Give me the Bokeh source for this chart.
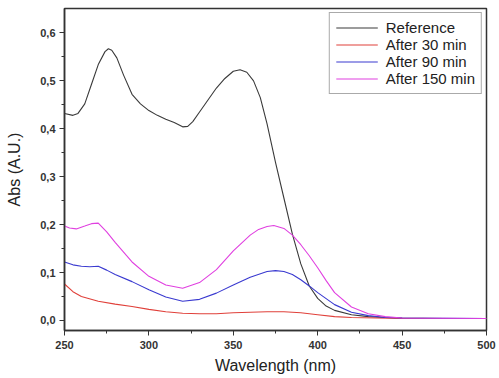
from bokeh.plotting import figure
from bokeh.models import FixedTicker, CustomJSTickFormatter, Range1d, Legend, LegendItem
from bokeh.embed import file_html
from bokeh.resources import INLINE

wl_ref = [250, 255, 258, 262, 266, 270, 274, 276, 278, 281, 285, 290, 295, 300, 305, 310, 315, 320, 323, 326,
          330, 335, 340, 345, 350, 354, 358, 362, 366, 370, 375, 380, 385, 390, 395, 400, 405, 410, 420, 430, 440, 450, 475, 500]
ref = [0.432, 0.428, 0.432, 0.452, 0.493, 0.534, 0.561, 0.567, 0.564, 0.548, 0.512, 0.472, 0.452, 0.438, 0.428, 0.42, 0.413, 0.404, 0.405, 0.415,
       0.435, 0.46, 0.485, 0.505, 0.52, 0.523, 0.518, 0.5, 0.465, 0.41, 0.33, 0.255, 0.18, 0.118, 0.072, 0.046, 0.03, 0.021, 0.012, 0.008, 0.006, 0.005, 0.004, 0.004]

wl_30 = [250, 255, 260, 270, 280, 290, 300, 310, 320, 330, 340, 350, 360, 370, 380, 390, 400, 410, 420, 450, 500]
a30 = [0.076, 0.06, 0.05, 0.04, 0.034, 0.029, 0.023, 0.018, 0.015, 0.014, 0.014, 0.016, 0.017, 0.018, 0.018, 0.016, 0.012, 0.008, 0.006, 0.004, 0.004]

wl_90 = [250, 255, 260, 265, 270, 275, 280, 290, 300, 310, 320, 330, 340, 350, 360, 370, 375, 380, 385, 390, 395, 400, 410, 420, 430, 440, 450, 500]
a90 = [0.122, 0.116, 0.113, 0.112, 0.113, 0.105, 0.096, 0.081, 0.064, 0.049, 0.04, 0.044, 0.057, 0.074, 0.09, 0.102, 0.104, 0.102, 0.096, 0.085, 0.072, 0.058, 0.033, 0.017, 0.01, 0.006, 0.005, 0.004]

wl_150 = [250, 253, 257, 262, 266, 270, 275, 280, 290, 300, 310, 320, 330, 340, 350, 360, 365, 370, 374, 380, 385, 390, 395, 400, 405, 410, 420, 430, 440, 450, 500]
a150 = [0.197, 0.193, 0.191, 0.197, 0.202, 0.203, 0.185, 0.163, 0.122, 0.092, 0.074, 0.067, 0.079, 0.106, 0.145, 0.178, 0.19, 0.196, 0.198, 0.192, 0.178, 0.158, 0.135, 0.11, 0.083, 0.058, 0.028, 0.014, 0.008, 0.005, 0.004]

series = [("Reference", wl_ref, ref, "#3a3a3a"),
          ("After 30 min", wl_30, a30, "#e0403a"),
          ("After 90 min", wl_90, a90, "#3a3ad0"),
          ("After 150 min", wl_150, a150, "#e040e0")]

x_ticks = [250, 300, 350, 400, 450, 500]
y_ticks = [0.0, 0.1, 0.2, 0.3, 0.4, 0.5, 0.6]

p = figure(width=499, height=378, output_backend="svg", toolbar_location=None,
           x_range=Range1d(250, 500), y_range=Range1d(-0.021, 0.651),
           min_border_left=64, min_border_right=13, min_border_top=8, min_border_bottom=48)
p.xgrid.visible = False
p.ygrid.visible = False
p.outline_line_color = "#333333"
p.outline_line_width = 1.5
p.background_fill_color = "white"
p.border_fill_color = "white"

items = []
for name, xs, ys, c in series:
    r = p.line(xs, ys, line_color=c, line_width=1.1)
    items.append(LegendItem(label=name, renderers=[r]))

legend = Legend(items=items, location="top_right", border_line_color="#555555", border_line_width=1.2,
                label_text_font="Liberation Sans", label_text_font_size="15px", label_text_color="#222222",
                glyph_width=42, glyph_height=17, label_height=17, spacing=0, padding=6, margin=4,
                label_standoff=8)
p.add_layout(legend)

p.xaxis.ticker = FixedTicker(ticks=x_ticks, minor_ticks=[275, 325, 375, 425, 475])
p.yaxis.ticker = FixedTicker(ticks=y_ticks, minor_ticks=[0.05, 0.15, 0.25, 0.35, 0.45, 0.55])
p.yaxis.formatter = CustomJSTickFormatter(code="return tick.toFixed(1).replace('.', ',');")

for ax in (p.xaxis[0], p.yaxis[0]):
    ax.axis_line_color = "#333333"
    ax.axis_line_width = 1.5
    ax.major_tick_line_color = "#333333"
    ax.minor_tick_line_color = "#333333"
    ax.major_tick_in = 0
    ax.major_tick_out = 5
    ax.minor_tick_in = 0
    ax.minor_tick_out = 3
    ax.major_label_text_font = "Liberation Sans"
    ax.major_label_text_font_size = "11px"
    ax.major_label_text_font_style = "bold"
    ax.major_label_text_color = "#333333"
    ax.axis_label_text_font = "Liberation Sans"
    ax.axis_label_text_font_size = "16px"
    ax.axis_label_text_font_style = "normal"
    ax.axis_label_text_color = "#222222"

p.xaxis.axis_label = "Wavelength (nm)"
p.yaxis.axis_label = "Abs (A.U.)"
p.xaxis.major_label_standoff = 5
p.xaxis.axis_label_standoff = 5
p.yaxis.major_label_standoff = 4
p.yaxis.axis_label_standoff = 14

open("out.html", "w").write(file_html(p, INLINE))
